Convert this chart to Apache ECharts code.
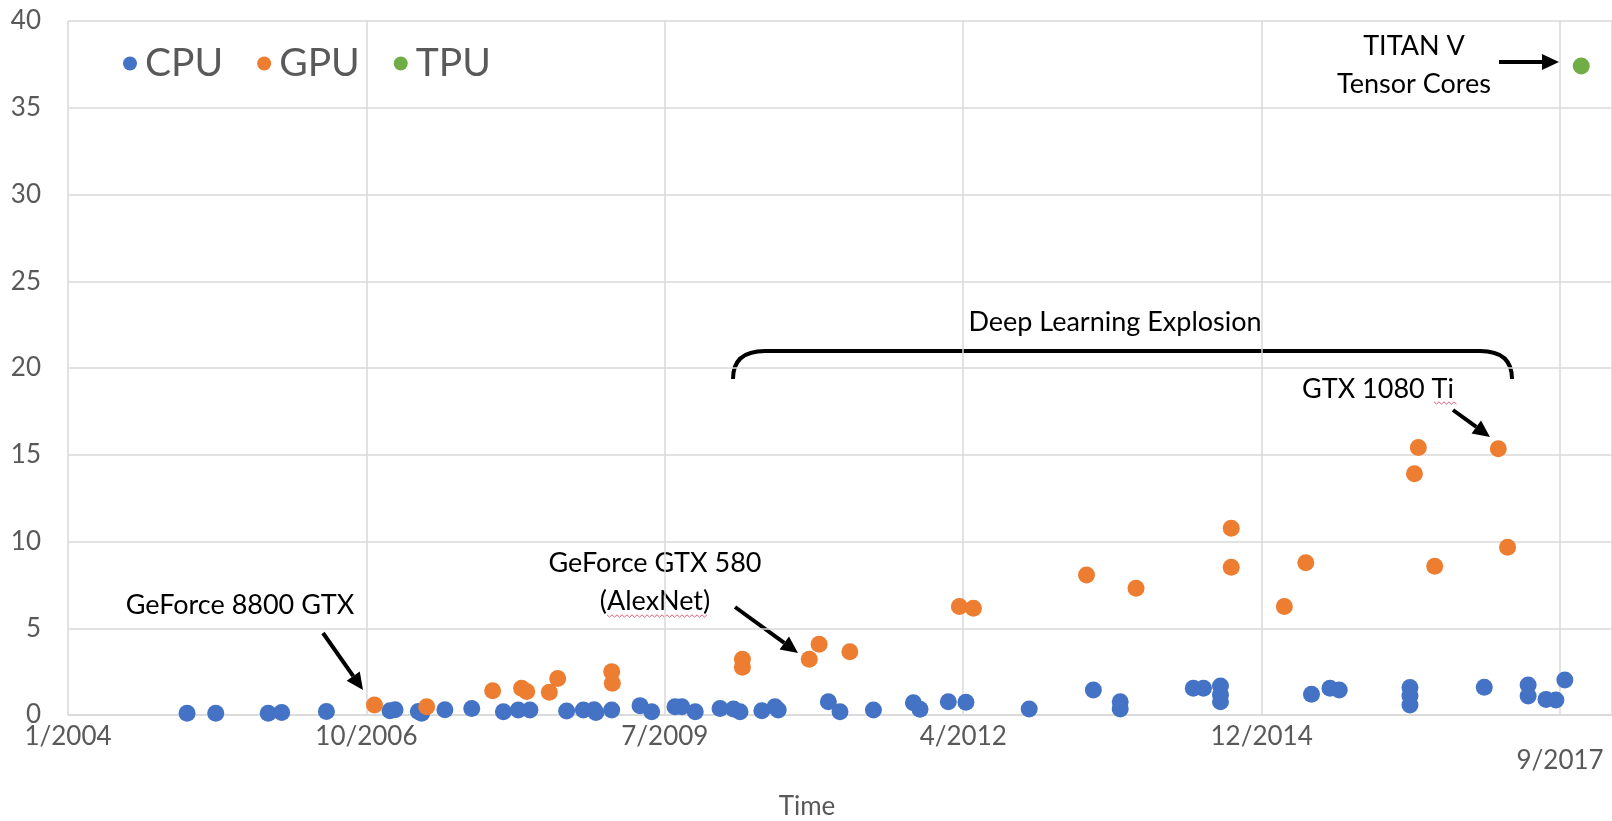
<!DOCTYPE html>
<html>
<head>
<meta charset="utf-8">
<script src="https://cdn.jsdelivr.net/npm/echarts@6/dist/echarts.min.js"></script>
<style>
  html, body { margin: 0; padding: 0; background: #fff; }
  #chart { width: 1612px; height: 821px; }
</style>
</head>
<body>
<div id="chart"></div>
<script>
// x axis runs in days from the axis start, ticks every 1000 days (Excel style)
const axisStart = '2004-01-16';
const tickDays = 1000;

const cpuDates = ['2005-02-18', '2005-05-25', '2005-11-17', '2006-01-01', '2006-05-31', '2006-12-30',
  '2007-01-16', '2007-04-04', '2007-04-15', '2007-07-02', '2007-09-30', '2008-01-14', '2008-03-04',
  '2008-04-12', '2008-08-13', '2008-10-08', '2008-11-13', '2008-11-19', '2009-01-11', '2009-04-16',
  '2009-05-25', '2009-08-11', '2009-09-03', '2009-10-18', '2010-01-09', '2010-02-23', '2010-03-17',
  '2010-05-29', '2010-07-12', '2010-07-23', '2011-01-07', '2011-02-15', '2011-06-07', '2011-10-19',
  '2011-11-10', '2012-02-13', '2012-04-12', '2012-11-10', '2013-06-13', '2013-09-11', '2013-09-11',
  '2014-05-14', '2014-06-17', '2014-08-13', '2014-08-13', '2014-08-13', '2015-06-14', '2015-08-15',
  '2015-09-15', '2016-05-09', '2016-05-09', '2016-05-09', '2017-01-13', '2017-06-09', '2017-06-09',
  '2017-08-08', '2017-09-10', '2017-10-10'];
const cpuValues = [0.1, 0.1, 0.1, 0.15, 0.2, 0.25,
  0.3, 0.2, 0.1, 0.3, 0.38, 0.19, 0.29,
  0.29, 0.23, 0.29, 0.3, 0.15, 0.29, 0.54,
  0.19, 0.48, 0.48, 0.19, 0.38, 0.35, 0.19,
  0.25, 0.48, 0.29, 0.77, 0.19, 0.29, 0.71,
  0.33, 0.77, 0.73, 0.35, 1.44, 0.77, 0.35,
  1.54, 1.54, 1.67, 1.15, 0.77, 1.19, 1.54,
  1.44, 1.58, 1.1, 0.58, 1.6, 1.73, 1.1,
  0.9, 0.86, 2.02];

const gpuDates = ['2006-11-08', '2007-05-02', '2007-12-09', '2008-03-15', '2008-04-01', '2008-06-16',
  '2008-07-14', '2009-01-11', '2009-01-13', '2010-03-25', '2010-03-25', '2010-11-04', '2010-12-07',
  '2011-03-20', '2012-03-21', '2012-05-07', '2013-05-21', '2013-11-03', '2014-09-18', '2014-09-18',
  '2015-03-15', '2015-05-26', '2016-05-24', '2016-06-06', '2016-07-31', '2017-03-01', '2017-04-01'];
const gpuValues = [0.58, 0.48, 1.4, 1.54, 1.35, 1.31,
  2.11, 2.5, 1.83, 3.21, 2.75, 3.21, 4.08,
  3.65, 6.25, 6.15, 8.07, 7.31, 10.77, 8.52,
  6.25, 8.78, 13.9, 15.42, 8.58, 15.34, 9.67];

const tpuDates = ['2017-12-04'];
const tpuValues = [37.4];

function toDays(s) {
  const p = s.split('-').map(Number);
  const b = axisStart.split('-').map(Number);
  return Math.round((Date.UTC(p[0], p[1] - 1, p[2]) - Date.UTC(b[0], b[1] - 1, b[2])) / 864e5);
}
function pairs(dates, values) {
  return dates.map((d, i) => [toDays(d), values[i]]);
}

const FONT = 'Lato, "Open Sans", sans-serif';

function arrow(x1, y1, x2, y2) {
  const a = Math.atan2(y2 - y1, x2 - x1), L = 17, W = 8;
  const bx = x2 - L * Math.cos(a), by = y2 - L * Math.sin(a);
  const px = -Math.sin(a) * W, py = Math.cos(a) * W;
  return [
    { type: 'line', shape: { x1: x1, y1: y1, x2: bx, y2: by }, style: { stroke: '#000', lineWidth: 4 } },
    { type: 'polygon', shape: { points: [[x2, y2], [bx + px, by + py], [bx - px, by - py]] }, style: { fill: '#000' } }
  ];
}
function squiggle(x1, x2, y) {
  const pts = [];
  let up = true;
  for (let x = x1; x <= x2; x += 2.5) { pts.push([x, up ? y - 1.2 : y + 1.2]); up = !up; }
  return { type: 'polyline', shape: { points: pts }, style: { stroke: '#e0607a', lineWidth: 1, fill: null } };
}
function label(text, x, y) {
  return {
    type: 'text', x: x, y: y,
    style: { text: text, fill: '#000', fontSize: 27, fontFamily: FONT, align: 'center', verticalAlign: 'middle' }
  };
}

const myChart = echarts.init(document.getElementById('chart'));

const option = {
  animation: false,
  backgroundColor: '#fff',
  grid: { left: 68, right: 0, top: 21, bottom: 106, outerBoundsMode: 'none', containLabel: false },
  legend: {
    left: 118, top: 39,
    icon: 'circle', itemWidth: 14, itemHeight: 14, itemGap: 34,
    textStyle: { fontSize: 39, color: '#595959', fontFamily: FONT, padding: [0, 0, 0, 3] },
    data: ['CPU', 'GPU', 'TPU']
  },
  xAxis: {
    type: 'value',
    min: 0,
    max: 5174,
    interval: tickDays,
    name: 'Time',
    nameLocation: 'middle',
    nameGap: 79,
    nameTextStyle: { fontSize: 26, color: '#595959', fontFamily: FONT, padding: [0, 66, 0, 0] },
    axisLine: { show: true, lineStyle: { color: '#d9d9d9', width: 1.5 } },
    axisTick: { show: false },
    splitLine: { show: true, lineStyle: { color: '#d9d9d9', width: 1.5 } },
    axisLabel: {
      fontSize: 26, color: '#595959', fontFamily: FONT, margin: 9,
      showMaxLabel: true,
      formatter: function (v) {
        if (v % tickDays !== 0) return '';
        const b = axisStart.split('-').map(Number);
        const d = new Date(Date.UTC(b[0], b[1] - 1, b[2]) + v * 864e5);
        const s = (d.getUTCMonth() + 1) + '/' + d.getUTCFullYear();
        return v === 5000 ? '{low|' + s + '}' : s;
      },
      rich: { low: { fontSize: 26, color: '#595959', fontFamily: FONT, padding: [24, 0, 0, 0] } }
    }
  },
  yAxis: {
    type: 'value',
    min: 0,
    max: 40,
    interval: 5,
    axisLine: { show: false },
    axisTick: { show: false },
    splitLine: { show: true, lineStyle: { color: '#d9d9d9', width: 1.5 } },
    axisLabel: { fontSize: 26, color: '#595959', fontFamily: FONT, margin: 27 }
  },
  series: [
    { name: 'CPU', type: 'scatter', symbolSize: 17, clip: false, itemStyle: { color: '#4472c4', opacity: 1 }, data: pairs(cpuDates, cpuValues) },
    { name: 'GPU', type: 'scatter', symbolSize: 17, clip: false, itemStyle: { color: '#ed7d31', opacity: 1 }, data: pairs(gpuDates, gpuValues) },
    { name: 'TPU', type: 'scatter', symbolSize: 17, clip: false, itemStyle: { color: '#70ad47', opacity: 1 }, data: pairs(tpuDates, tpuValues) }
  ],
  graphic: [
    label('GeForce 8800 GTX', 240, 605),
    ...arrow(323, 633, 363, 690),
    label('GeForce GTX 580', 655, 563),
    label('(AlexNet)', 655, 601),
    squiggle(607, 707, 616),
    ...arrow(735, 607, 798, 653),
    label('Deep Learning Explosion', 1115, 322),
    { type: 'bezierCurve', shape: { x1: 733, y1: 379, cpx1: 733, cpy1: 351, x2: 765, y2: 351 }, style: { stroke: '#000', lineWidth: 4, fill: null } },
    { type: 'line', shape: { x1: 765, y1: 351, x2: 1480, y2: 351 }, style: { stroke: '#000', lineWidth: 4 } },
    { type: 'bezierCurve', shape: { x1: 1480, y1: 351, cpx1: 1512, cpy1: 351, x2: 1512, y2: 379 }, style: { stroke: '#000', lineWidth: 4, fill: null } },
    label('GTX 1080 Ti', 1378, 389),
    squiggle(1434, 1458, 403),
    ...arrow(1453, 410, 1490, 437),
    label('TITAN V', 1414, 46),
    label('Tensor Cores', 1414, 84),
    ...arrow(1499, 62, 1559, 62)
  ]
};

myChart.setOption(option);
</script>
</body>
</html>
